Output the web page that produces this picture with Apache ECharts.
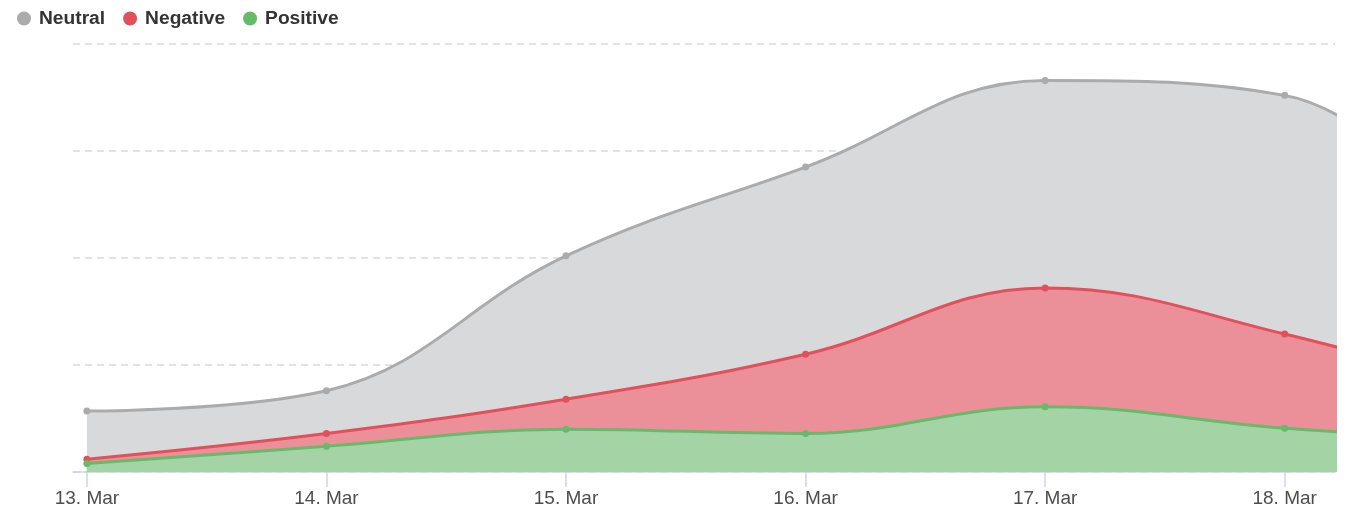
<!DOCTYPE html>
<html>
<head>
<meta charset="utf-8">
<script src="https://cdn.jsdelivr.net/npm/echarts@6/dist/echarts.min.js"></script>
<style>
html,body{margin:0;padding:0;background:#fff;}
#chart{width:1347px;height:512px;}
</style>
</head>
<body>
<div id="chart"></div>
<script>
// Day labels (index 0..6); the 19 Mar point lies beyond the visible range and is clipped
var dateLabels = ['13. Mar', '14. Mar', '15. Mar', '16. Mar', '17. Mar', '18. Mar', '19. Mar'];
var positive = [8, 24, 40, 36, 61, 41, 28];
var negative = [4, 12, 28, 74, 111, 88, 38];
var neutral  = [45, 40, 134, 175, 194, 223, 100];
var yTicks = [0, 100, 200, 300, 400];

// stacked totals (positive at bottom, then negative, then neutral)
var stackNeg = negative.map(function (v, i) { return v + positive[i]; });
var stackNeu = neutral.map(function (v, i) { return v + stackNeg[i]; });

function pairs(arr) { return arr.map(function (v, i) { return [i, v]; }); }
var labelIdx = [0, 1, 2, 3, 4, 5];

var chart = echarts.init(document.getElementById('chart'), null, { renderer: 'canvas' });

function mkSeries(name, data, line, fill, z) {
  return {
    name: name,
    type: 'line',
    smooth: 0.4,
    data: pairs(data),
    symbol: 'circle',
    symbolSize: 7,
    showSymbol: true,
    clip: true,
    z: z,
    lineStyle: { width: 3, color: line },
    itemStyle: { color: line },
    areaStyle: { color: fill, opacity: 1 },
    emphasis: { disabled: true }
  };
}

chart.setOption({
  animation: false,
  legend: {
    left: 12,
    top: 4,
    icon: 'circle',
    itemWidth: 14,
    itemHeight: 14,
    itemGap: 18,
    textStyle: { fontFamily: 'Liberation Sans, Arial, sans-serif', fontSize: 19.2, fontWeight: 'bold', color: '#333', padding: [0, 0, 0, 3] },
    data: ['Neutral', 'Negative', 'Positive']
  },
  grid: { left: 73, right: 12, top: 44, bottom: 40, containLabel: false },
  xAxis: {
    type: 'value',
    min: -0.058,
    max: 5.21,
    axisLine: { show: true, lineStyle: { color: '#ccd6eb', width: 1.5 } },
    axisTick: { show: true, length: 15, lineStyle: { color: '#ccd6eb', width: 1.5 }, customValues: labelIdx },
    axisLabel: {
      customValues: labelIdx,
      formatter: function (v) { return dateLabels[Math.round(v)]; },
      fontFamily: 'Liberation Sans, Arial, sans-serif',
      fontSize: 19,
      color: '#4d4d4d',
      margin: 17
    },
    splitLine: { show: false }
  },
  yAxis: {
    type: 'value',
    min: yTicks[0],
    max: yTicks[yTicks.length - 1],
    interval: 100,
    axisLine: { show: false },
    axisTick: { show: false },
    axisLabel: { show: false },
    splitLine: { show: true, lineStyle: { color: '#e2e2e2', width: 2, type: [7, 5] } }
  },
  series: [
    mkSeries('Neutral', stackNeu, '#ababab', '#d8d9db', 2),
    mkSeries('Negative', stackNeg, '#e2505c', '#eb9098', 3),
    mkSeries('Positive', positive, '#66bb6a', '#a4d4a6', 4)
  ]
});
</script>
</body>
</html>
